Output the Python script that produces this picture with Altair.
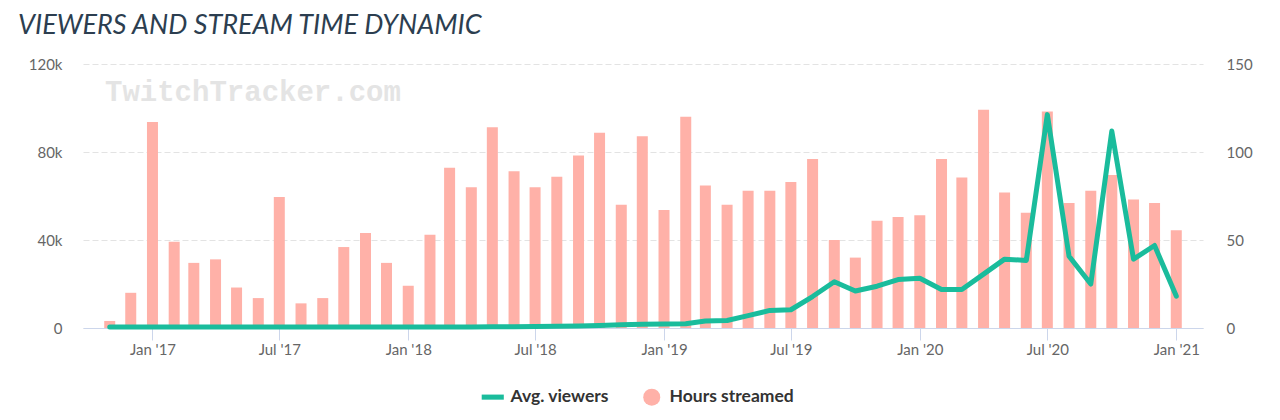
import altair as alt
import pandas as pd

TEAL = "#1ABC9C"
SALMON = "#FFB1A8"

months = [
    "2016-11", "2016-12",
    "2017-01", "2017-02", "2017-03", "2017-04", "2017-05", "2017-06",
    "2017-07", "2017-08", "2017-09", "2017-10", "2017-11", "2017-12",
    "2018-01", "2018-02", "2018-03", "2018-04", "2018-05", "2018-06",
    "2018-07", "2018-08", "2018-09", "2018-10", "2018-11", "2018-12",
    "2019-01", "2019-02", "2019-03", "2019-04", "2019-05", "2019-06",
    "2019-07", "2019-08", "2019-09", "2019-10", "2019-11", "2019-12",
    "2020-01", "2020-02", "2020-03", "2020-04", "2020-05", "2020-06",
    "2020-07", "2020-08", "2020-09", "2020-10", "2020-11", "2020-12",
    "2021-01",
]

hours_streamed = [
    4, 20,
    117, 49, 37, 39, 23, 17,
    74.5, 14, 17, 46, 54, 37,
    24, 53, 91, 80, 114, 89,
    80, 86, 98, 111, 70, 109,
    67, 120, 81, 70, 78, 78,
    83, 96, 50, 40, 61, 63,
    64, 96, 85.5, 124, 77, 65.5,
    123, 71, 78, 87, 73, 71,
    55.5,
]

avg_viewers = [
    400, 400,
    400, 400, 400, 400, 400, 400,
    400, 400, 400, 450, 450, 450,
    450, 500, 500, 500, 550, 600,
    650, 750, 900, 1100, 1500, 1700,
    1800, 1900, 3200, 3400, 5600, 8000,
    8300, 14300, 21000, 16800, 19000, 22000,
    22600, 17500, 17500, 24500, 31300, 30700,
    97000, 32600, 20000, 89500, 31300, 37500,
    14500,
]

series_names = ["Avg. viewers", "Hours streamed"]
series_colors = [TEAL, SALMON]
series_shapes = ["M-1.3,-0.3H1.3V0.3H-1.3Z", "circle"]

x_tick_dates = [
    alt.DateTime(year=2017, month=1, date=1), alt.DateTime(year=2017, month=7, date=1),
    alt.DateTime(year=2018, month=1, date=1), alt.DateTime(year=2018, month=7, date=1),
    alt.DateTime(year=2019, month=1, date=1), alt.DateTime(year=2019, month=7, date=1),
    alt.DateTime(year=2020, month=1, date=1), alt.DateTime(year=2020, month=7, date=1),
    alt.DateTime(year=2021, month=1, date=1),
]

df = pd.DataFrame({
    "month": [m + "-01T00:00:00" for m in months],
    "hours": hours_streamed,
    "viewers": avg_viewers,
})
legend_df = pd.DataFrame({"series": series_names})

x_scale = alt.Scale(domain=[alt.DateTime(year=2016, month=10, date=1),
                            alt.DateTime(year=2021, month=2, date=1)])

x_enc = alt.X(
    "month:T", scale=x_scale, title=None,
    axis=alt.Axis(values=x_tick_dates, format="%b '%y", grid=False,
                  domainColor="#ccd6eb", tickColor="#ccd6eb", tickSize=12,
                  labelPadding=2, labelFontSize=15, labelColor="#666666",
                  labelFont="Lato"),
)

watermark = alt.Chart(pd.DataFrame({"t": ["TwitchTracker.com"]})).mark_text(
    font="Liberation Mono", fontSize=29, fontWeight="bold", color="#e4e4e4",
    align="left", baseline="alphabetic",
).encode(text="t:N", x=alt.value(22), y=alt.value(37))

bars = alt.Chart(df).mark_bar(color=SALMON, width=11).encode(
    x=x_enc,
    y=alt.Y("hours:Q", scale=alt.Scale(domain=[0, 150]), title=None,
            axis=alt.Axis(orient="right", values=[0, 50, 100, 150], grid=False,
                          domain=False, ticks=False, labelPadding=23,
                          labelFontSize=15, labelColor="#666666", labelFont="Lato")),
)

line = alt.Chart(df).mark_line(color=TEAL, strokeWidth=5, strokeJoin="round",
                               strokeCap="round").encode(
    x=alt.X("month:T", scale=x_scale),
    y=alt.Y("viewers:Q", scale=alt.Scale(domain=[0, 120000]), title=None,
            axis=alt.Axis(orient="left", values=[0, 40000, 80000, 120000],
                          labelExpr="datum.value == 0 ? '0' : format(datum.value / 1000, 'd') + 'k'",
                          grid=True, gridDash=[6, 3], gridColor="#e3e3e3",
                          domain=False, ticks=False, labelPadding=21,
                          labelFontSize=15, labelColor="#666666", labelFont="Lato")),
)

legend_kw = dict(orient="none", legendX=401, legendY=324,
                 direction="horizontal", title=None,
                 symbolOpacity=1, symbolSize=289,
                 symbolStrokeWidth=0, labelOffset=9,
                 columnPadding=34, padding=0,
                 labelFont="Lato", labelFontSize=17.5,
                 labelFontWeight="bold", labelColor="#333333")

legend_pts = alt.Chart(legend_df).mark_point(filled=True, opacity=0, size=10).encode(
    x=alt.value(0), y=alt.value(0),
    color=alt.Color("series:N", scale=alt.Scale(domain=series_names, range=series_colors),
                    legend=alt.Legend(**legend_kw)),
    shape=alt.Shape("series:N", scale=alt.Scale(domain=series_names, range=series_shapes),
                    legend=alt.Legend(**legend_kw)),
)

chart = alt.layer(watermark, bars, line, legend_pts).resolve_scale(
    y="independent"
).properties(
    width=1120, height=264,
    background="white",
    autosize=alt.AutoSizeParams(type="none"),
    padding={"left": 83, "top": 64, "right": 77, "bottom": 92},
    title=alt.TitleParams("VIEWERS AND STREAM TIME DYNAMIC", anchor="start",
                          frame="group", dx=-65, dy=34, offset=30, font="Lato",
                          fontStyle="italic", fontWeight="normal", fontSize=27,
                          color="#2c3e50", baseline="alphabetic"),
).configure_view(strokeWidth=0, stroke=None)

chart.save("out.html", embed_options={"renderer": "svg", "actions": False})
